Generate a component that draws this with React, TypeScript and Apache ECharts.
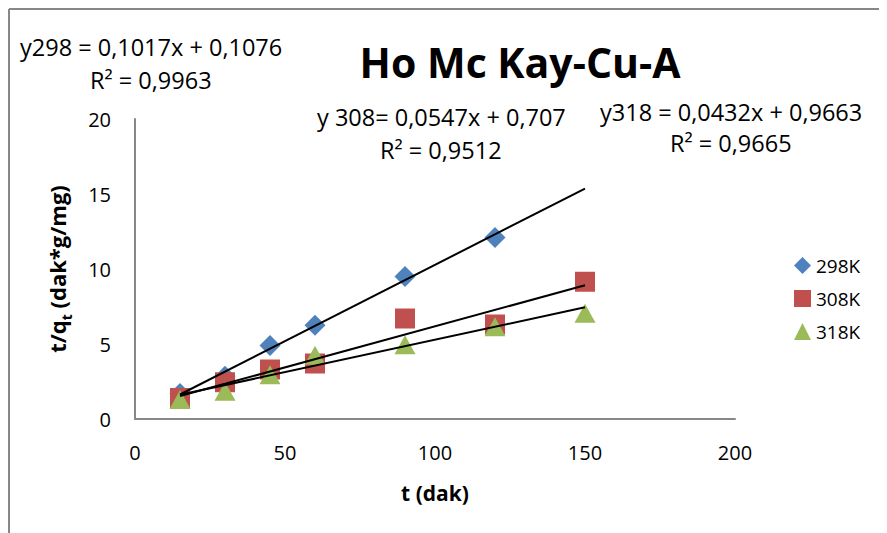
import React, { useEffect, useRef } from "react";
import * as echarts from "echarts";

const times = [15, 30, 45, 60, 90, 120, 150];
const seriesNames = ["298K", "308K", "318K"];
const values298 = [1.7, 2.85, 4.9, 6.25, 9.5, 12.1, null];
const values308 = [1.4, 2.45, 3.3, 3.7, 6.7, 6.3, 9.15];
const values318 = [1.3, 1.85, 2.95, 4.25, 4.95, 6.15, 7.05];
const slopes = [0.1017, 0.0547, 0.0432];
const intercepts = [0.1076, 0.707, 0.9663];
const fitRange = [15, 150];
const eqTexts = [
  "y298 = 0,1017x + 0,1076",
  "R² = 0,9963",
  "y 308= 0,0547x + 0,707",
  "R² = 0,9512",
  "y318 = 0,0432x + 0,9663",
  "R² = 0,9665",
];
const xTicks = [0, 200, 50];
const yTicks = [0, 20, 5];

const colors = ["#4F81BD", "#C0504D", "#9BBB59"];
const symbols = ["diamond", "rect", "triangle"];
const symbolSizes: any[] = [[21, 21], [20, 20], [21, 19]];
const FONT = "'Open Sans', sans-serif";

export default function App() {
  const ref = useRef<HTMLDivElement>(null);
  useEffect(() => {
    if (!ref.current) return;
    const chart = echarts.init(ref.current, null, { renderer: "svg" });
    const allVals = [values298, values308, values318];
    const scatter = allVals.map((vals, i) => ({
      name: seriesNames[i],
      type: "scatter",
      symbol: symbols[i],
      symbolSize: symbolSizes[i],
      itemStyle: { color: colors[i], opacity: 1 },
      z: 2 + i,
      data: times
        .map((t, j) => (vals[j] == null ? null : [t, vals[j]]))
        .filter((d) => d !== null),
    }));
    const fits = slopes.map((a, i) => ({
      name: "fit" + i,
      type: "line",
      showSymbol: false,
      symbol: "none",
      z: 10,
      lineStyle: { color: "#000", width: 2 },
      data: fitRange.map((x) => [x, a * x + intercepts[i]]),
    }));
    const txt = (t: string, x: number, y: number) => ({
      type: "text",
      x,
      y,
      style: { text: t, font: `23.5px ${FONT}`, fill: "#000", verticalAlign: "middle" },
    });
    chart.setOption({
      animation: false,
      backgroundColor: "#fff",
      textStyle: { fontFamily: FONT },
      title: {
        text: "Ho Mc Kay-Cu-A",
        left: 507,
        top: 28,
        textAlign: "center",
        textStyle: { fontSize: 41, fontWeight: "bold", color: "#000", fontFamily: FONT },
      },
      grid: { left: 127, top: 111, width: 600, height: 300, containLabel: false },
      legend: {
        data: seriesNames,
        orient: "vertical",
        left: 781,
        top: 243,
        itemWidth: 17,
        itemHeight: 17,
        itemGap: 14,
        textStyle: { fontSize: 19, color: "#000", fontFamily: FONT },
      },
      xAxis: {
        type: "value",
        min: xTicks[0],
        max: xTicks[1],
        interval: xTicks[2],
        name: "t (dak)",
        nameLocation: "middle",
        nameGap: 63,
        nameTextStyle: { fontSize: 21, fontWeight: "bold", color: "#000" },
        axisLine: { lineStyle: { color: "#878787", width: 2 } },
        axisTick: { show: false },
        splitLine: { show: false },
        axisLabel: { fontSize: 20, color: "#000", margin: 23 },
      },
      yAxis: {
        type: "value",
        min: yTicks[0],
        max: yTicks[1],
        interval: yTicks[2],
        name: "{b|t/q}{s|t}{b| (dak*g/mg)}",
        nameLocation: "middle",
        nameGap: 62,
        nameTextStyle: {
          rich: {
            b: { fontSize: 22, lineHeight: 32, fontWeight: "bold", color: "#000", fontFamily: FONT },
            s: { fontSize: 14, lineHeight: 14, fontWeight: "bold", color: "#000", fontFamily: FONT, verticalAlign: "bottom" },
          },
        },
        axisLine: { show: true, lineStyle: { color: "#878787", width: 2 } },
        axisTick: { show: false },
        splitLine: { show: false },
        axisLabel: { fontSize: 20, color: "#000", margin: 24 },
      },
      graphic: [
        { type: "line", shape: { x1: 1, y1: 1, x2: 1, y2: 540 }, style: { stroke: "#878787", lineWidth: 2 } },
        { type: "line", shape: { x1: 1, y1: 1, x2: 900, y2: 1 }, style: { stroke: "#878787", lineWidth: 2 } },
        txt(eqTexts[0], 12, 39),
        txt(eqTexts[1], 82, 72),
        txt(eqTexts[2], 309, 109),
        txt(eqTexts[3], 372, 142),
        txt(eqTexts[4], 592, 104),
        txt(eqTexts[5], 662, 135),
      ],
      series: [...scatter, ...fits],
    });
    return () => chart.dispose();
  }, []);
  return <div ref={ref} style={{ width: 879, height: 525 }} />;
}
